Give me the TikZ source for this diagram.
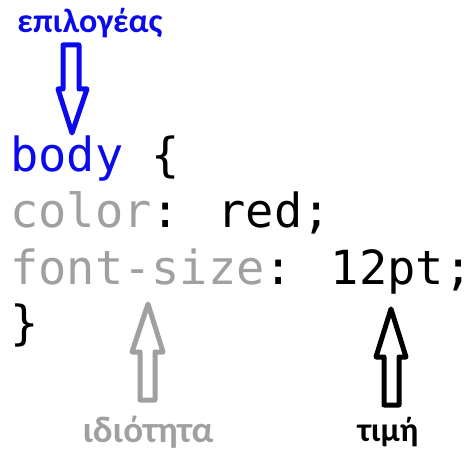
\documentclass[tikz,border=0pt]{standalone}
\usepackage{fontspec}
\newfontfamily\codefont{DejaVu Sans Mono}
\newfontfamily\labelfont{Carlito}
\definecolor{selblue}{RGB}{10,10,235}
\definecolor{propgray}{RGB}{160,160,160}
\begin{document}
\begin{tikzpicture}[x=1pt,y=-1pt,
  code/.style={anchor=base west, inner sep=0pt, font=\codefont\fontsize{47}{47}\selectfont},
  lbl/.style={anchor=base, inner sep=0pt, font=\labelfont\bfseries\fontsize{34}{34}\selectfont},
  blockarrow/.style={line width=5pt, line join=round, fill=white}]
\useasboundingbox (0,0) rectangle (475,452);
% code lines
\node[code] (l1) at (10,172) {\textcolor{selblue}{body} \{};
\node[code] (l2) at (10,228) {\textcolor{propgray}{color}: red;};
\node[code] (l3) at (10,284) {\textcolor{propgray}{font-size}: 12pt;};
\node[code] (l4) at (10,340) {\}};
% labels
\node[lbl, text=selblue] (sel) at (90,33) {επιλογέας};
\node[lbl, text=propgray, font=\labelfont\bfseries\fontsize{37}{37}\selectfont] (prop) at (148,442) {ιδιότητα};
\node[lbl, text=black] (val) at (388,441) {τιμή};
% selector arrow (down)
\draw[blockarrow, draw=selblue]
  (63,45) -- (79,45) -- (79,89) -- (87,89) -- (72,133) -- (58,89) -- (63,89) -- cycle;
% property arrow (up)
\draw[blockarrow, draw=propgray]
  (140,400) -- (155,400) -- (155,352) -- (163,352) -- (148,304) -- (132,352) -- (140,352) -- cycle;
% value arrow (up)
\draw[blockarrow, draw=black]
  (384,405) -- (399,405) -- (399,357) -- (406,357) -- (391,309) -- (376,357) -- (384,357) -- cycle;
\end{tikzpicture}
\end{document}
